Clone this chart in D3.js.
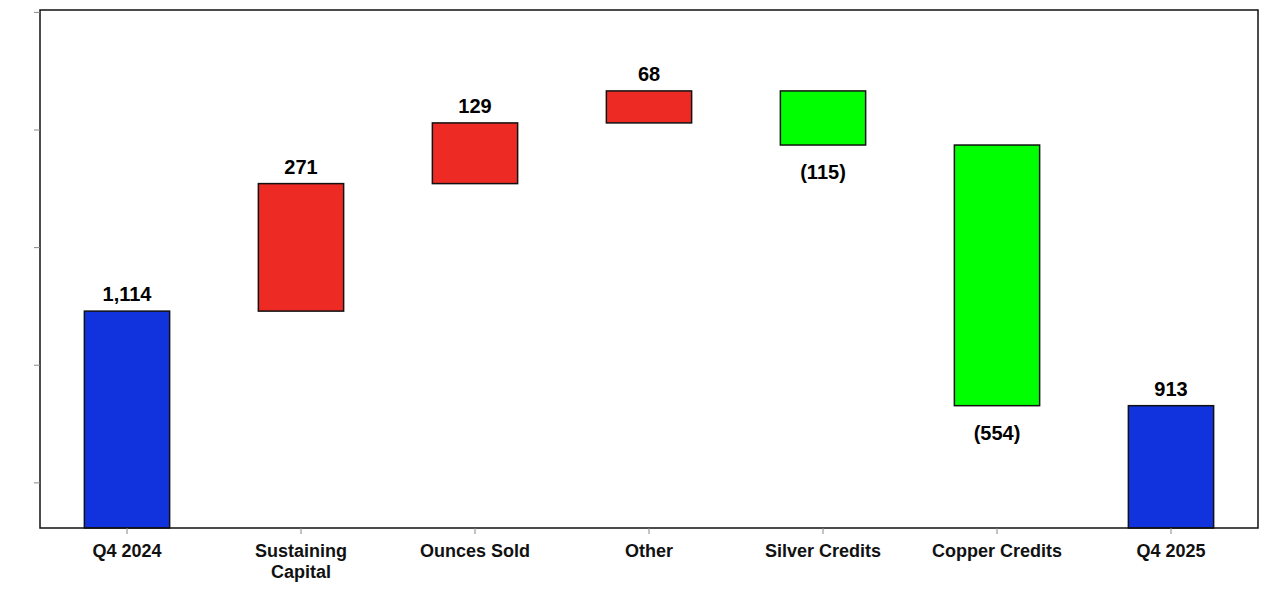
<!DOCTYPE html>
<html lang="en">
<head>
<meta charset="utf-8">
<script src="https://d3js.org/d3.v7.min.js"></script>
<style>
  body { margin: 0; background: #fff; }
  text { font-family: "Liberation Sans", Arial, sans-serif; font-weight: bold; }
</style>
</head>
<body>
<div id="chart"></div>
<script>
// chart data
var categories = ["Q4 2024", "Sustaining Capital", "Ounces Sold", "Other", "Silver Credits", "Copper Credits", "Q4 2025"];
var changes = [1114, 271, 129, 68, -115, -554, 913];
var kinds = ["total", "delta", "delta", "delta", "delta", "delta", "total"];
var labels = ["1,114", "271", "129", "68", "(115)", "(554)", "913"];
var yTicks = [750, 1000, 1250, 1500, 1750];

var width = 1288, height = 594;
var margin = {left: 40, right: 30, top: 10, bottom: 66};

// build start/end of each bar
var bars = [];
var running = 0;
categories.forEach(function(c, i){
    var start, end;
    if (kinds[i] == "total") { start = 653; end = changes[i]; running = changes[i]; }
    else { start = running; end = running + changes[i]; running = end; }
    bars.push({cat: c, start: start, end: end, value: changes[i], kind: kinds[i], label: labels[i]});
});

var svg = d3.select("#chart").append("svg")
    .attr("width", width)
    .attr("height", height);

var xScale = d3.scaleBand()
    .domain(categories)
    .range([margin.left, width - margin.right])
    .paddingInner(0.51)
    .paddingOuter(0.255);

var yScale = d3.scaleLinear()
    .domain([653, 1754])
    .range([height - margin.bottom, margin.top]);

function colour(d){
    if (d.kind == "total") return "#1133dd";
    return d.value > 0 ? "#ee2a25" : "#00ff00";
}

// bars
svg.selectAll("rect.bar")
    .data(bars)
    .enter()
    .append("rect")
        .attr("class", "bar")
        .attr("x", function(d){ return xScale(d.cat); })
        .attr("width", xScale.bandwidth())
        .attr("y", function(d){ return yScale(Math.max(d.start, d.end)); })
        .attr("height", function(d){ return Math.abs(yScale(d.start) - yScale(d.end)); })
        .attr("fill", colour)
        .attr("stroke", "#111")
        .attr("stroke-width", 1.5);

// value labels
svg.selectAll("text.val")
    .data(bars)
    .enter()
    .append("text")
        .attr("class", "val")
        .attr("x", function(d){ return xScale(d.cat) + xScale.bandwidth() / 2; })
        .attr("y", function(d){
            if (d.kind == "delta" && d.value < 0) return yScale(d.end) + 34;
            return yScale(Math.max(d.start, d.end)) - 10;
        })
        .attr("text-anchor", "middle")
        .attr("font-size", "20px")
        .text(function(d){ return d.label; });

// frame
svg.append("rect")
    .attr("x", margin.left)
    .attr("y", margin.top)
    .attr("width", width - margin.left - margin.right)
    .attr("height", height - margin.top - margin.bottom)
    .attr("fill", "none")
    .attr("stroke", "#111")
    .attr("stroke-width", 1.5);

// y axis ticks, no labels
var yAxis = d3.axisLeft(yScale).tickValues(yTicks).tickFormat("").tickSize(6);
svg.append("g")
    .attr("transform", "translate(" + margin.left + ",0)")
    .call(yAxis)
    .call(function(g){ g.select(".domain").remove(); g.selectAll("line").attr("stroke", "#888"); });

// x axis
var xAxis = d3.axisBottom(xScale).tickSize(6).tickPadding(10);
var gx = svg.append("g")
    .attr("transform", "translate(0," + (height - margin.bottom) + ")")
    .call(xAxis);
gx.select(".domain").remove();
gx.selectAll("line").attr("stroke", "#888");
gx.selectAll("text")
    .attr("font-size", "18px")
    .attr("fill", "#111")
    .each(function(d){
        if (d == "Sustaining Capital") {
            var t = d3.select(this).text(null);
            t.append("tspan").attr("x", 0).text("Sustaining");
            t.append("tspan").attr("x", 0).attr("dy", "1.2em").text("Capital");
        }
    });
</script>
</body>
</html>
